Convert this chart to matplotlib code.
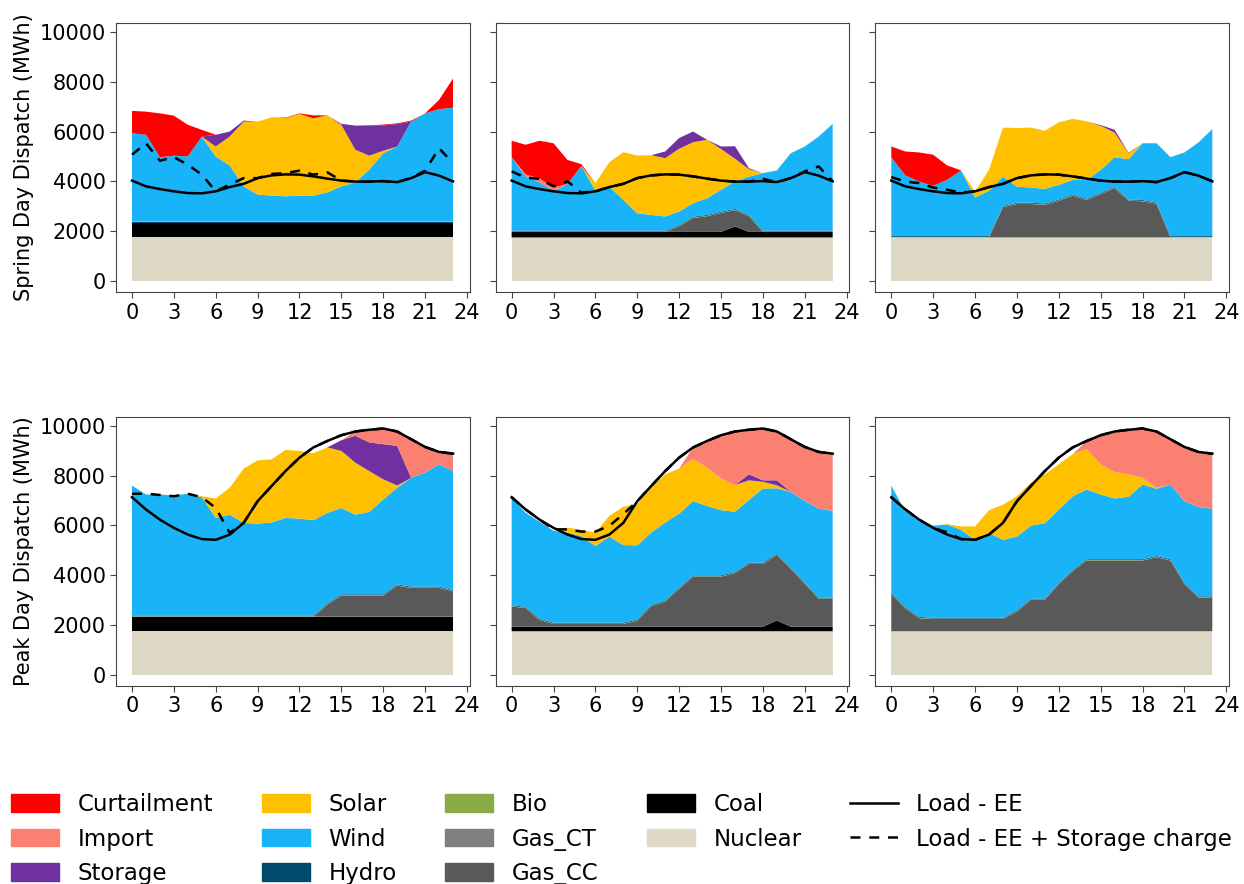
### Dispatch stack for spring day and peak day, three scenarios ###

import numpy as np
import matplotlib.pyplot as plt
from matplotlib.patches import Patch
from matplotlib.lines import Line2D

# Data (MWh), hours 0..23

hours = np.arange(24)

tech_names = ["Nuclear", "Coal", "Gas_CC", "Gas_CT", "Bio", "Hydro",
              "Wind", "Solar", "Storage", "Import", "Curtailment"]
tech_colors = ["#DDD9C4", "#000000", "#595959", "#7F7F7F", "#8AAC46", "#004B6B",
               "#19B4F8", "#FFC000", "#7030A0", "#FA8072", "#FF0000"]

load_spring = [4030, 3800, 3690, 3600, 3530, 3520, 3600, 3770, 3900, 4130, 4240, 4280,
               4270, 4200, 4110, 4030, 3990, 3990, 4010, 3970, 4130, 4370, 4230, 4000]
load_peak = [7130, 6640, 6230, 5900, 5630, 5450, 5420, 5630, 6100, 6970, 7580, 8180,
             8720, 9130, 9390, 9620, 9770, 9840, 9890, 9770, 9460, 9150, 8950, 8880]

bio = [15] * 24
hydro = [35] * 24
nuclear = [1750] * 24
no_gen = [0] * 24

# Spring day, scenario 1
sp1_coal = [580] * 24
sp1_gas_cc = no_gen
sp1_wind = [3550, 3490, 2590, 2650, 2620, 3420, 2620, 2260, 1420, 1090, 1050, 1020,
            1050, 1050, 1180, 1420, 1580, 2090, 2750, 3020, 4020, 4350, 4520, 4580]
sp1_solar = [0, 0, 0, 0, 0, 0, 400, 1160, 2600, 2930, 3140, 3140,
             3280, 3100, 3090, 2470, 1310, 560, 100, 0, 0, 0, 0, 0]
sp1_storage = [0, 0, 0, 0, 0, 0, 470, 200, 40, 0, 0, 0,
               0, 0, 0, 40, 970, 1220, 1020, 900, 0, 0, 0, 0]
sp1_import = no_gen
sp1_curtail = [900, 930, 1760, 1610, 1270, 270, 0, 0, 0, 0, 0, 20,
               20, 120, 0, 0, 0, 0, 30, 30, 40, 0, 370, 1170]
sp1_charge = [5070, 5530, 4830, 4970, 4670, 4270, 3600, 3870, 4130, 4130, 4300, 4330,
              4430, 4270, 4360, 4030, 3990, 3990, 4010, 3970, 4130, 4430, 5330, 4730]

# Spring day, scenario 2
sp2_coal = [220, 220, 220, 220, 220, 220, 220, 220, 220, 220, 220, 220,
            220, 220, 220, 220, 440, 220, 220, 220, 220, 220, 220, 220]
sp2_gas_cc = [0, 0, 0, 0, 0, 0, 0, 0, 0, 0, 0, 0,
              220, 560, 630, 760, 650, 630, 0, 0, 0, 0, 0, 0]
sp2_wind = [2950, 2180, 1940, 1580, 1880, 2600, 1610, 1770, 1240, 700, 630, 570,
            550, 540, 670, 880, 1110, 1540, 2310, 2420, 3110, 3380, 3780, 4290]
sp2_solar = [0, 0, 0, 0, 0, 0, 300, 980, 1910, 2320, 2400, 2340,
             2520, 2450, 2350, 1640, 910, 300, 0, 0, 0, 0, 0, 0]
sp2_storage = [0, 0, 0, 0, 0, 0, 0, 0, 0, 0, 0, 270,
               430, 430, 0, 100, 500, 40, 0, 0, 0, 0, 0, 0]
sp2_import = [0, 80, 150, 150, 0, 0, 0, 0, 0, 0, 0, 0,
              0, 0, 0, 0, 0, 0, 0, 0, 0, 0, 0, 0]
sp2_curtail = [660, 1190, 1520, 1780, 960, 70, 0, 0, 0, 0, 0, 0,
               0, 0, 0, 0, 0, 0, 0, 0, 0, 0, 0, 0]
sp2_charge = [4400, 4150, 4100, 3800, 4000, 3550, 3600, 3770, 3900, 4130, 4240, 4280,
              4270, 4200, 4110, 4030, 3990, 3990, 4100, 3970, 4130, 4400, 4600, 4000]

# Spring day, scenario 3
sp3_coal = no_gen
sp3_gas_cc = [0, 0, 0, 0, 0, 0, 0, 0, 1210, 1340, 1340, 1310,
              1470, 1670, 1500, 1740, 1980, 1470, 1450, 1350, 0, 0, 0, 0]
sp3_wind = [3170, 2440, 2190, 2020, 2260, 2640, 1560, 1820, 1180, 650, 610, 590,
            590, 590, 760, 920, 1190, 1620, 2280, 2380, 3170, 3360, 3760, 4300]
sp3_solar = [0, 0, 0, 0, 0, 0, 230, 840, 1970, 2350, 2410, 2330,
             2510, 2450, 2350, 1770, 990, 240, 0, 0, 0, 0, 0, 0]
sp3_storage = [0, 0, 0, 0, 0, 0, 0, 0, 0, 0, 0, 0,
               0, 0, 0, 30, 110, 20, 0, 0, 0, 0, 0, 0]
sp3_import = no_gen
sp3_curtail = [430, 960, 1170, 1250, 580, 0, 0, 0, 0, 0, 0, 0,
               0, 0, 0, 0, 0, 0, 0, 0, 0, 0, 0, 0]
sp3_charge = [4170, 3990, 3930, 3750, 3660, 3550, 3600, 3770, 3900, 4130, 4240, 4280,
              4270, 4200, 4110, 4030, 3990, 3990, 4010, 3970, 4130, 4370, 4230, 4000]

# Peak day, scenario 1
pk1_coal = [580] * 24
pk1_gas_cc = [0, 0, 0, 0, 0, 0, 0, 0, 0, 0, 0, 0,
              0, 0, 490, 850, 850, 850, 850, 1250, 1160, 1160, 1160, 1020]
pk1_wind = [5220, 4860, 4860, 4820, 4890, 4750, 3920, 4050, 3720, 3690, 3740, 3920,
            3890, 3830, 3630, 3470, 3200, 3310, 3810, 3880, 4370, 4580, 4910, 4780]
pk1_solar = [0, 0, 0, 0, 0, 40, 780, 1080, 2180, 2540, 2530, 2730,
             2720, 2690, 2630, 2290, 2090, 1640, 810, 90, 0, 0, 0, 0]
pk1_storage = [0, 0, 0, 0, 0, 0, 0, 0, 0, 0, 0, 0,
               0, 0, 0, 430, 1080, 1150, 1410, 1590, 0, 0, 0, 0]
pk1_import = [0, 0, 0, 0, 0, 0, 0, 0, 0, 0, 0, 0,
              0, 0, 0, 0, 170, 510, 630, 580, 1550, 1030, 500, 700]
pk1_curtail = no_gen
pk1_charge = [7270, 7270, 7220, 7170, 7270, 7130, 6700, 5700, 6100, 6970, 7580, 8180,
              8720, 9130, 9390, 9620, 9770, 9840, 9890, 9770, 9460, 9150, 8950, 8880]

# Peak day, scenario 2
pk2_coal = [180, 180, 180, 180, 180, 180, 180, 180, 180, 180, 180, 180,
            180, 180, 180, 180, 180, 180, 180, 430, 180, 180, 180, 180]
pk2_gas_cc = [810, 750, 270, 110, 110, 110, 110, 110, 110, 240, 820, 1010,
              1520, 2010, 2010, 2010, 2150, 2520, 2520, 2630, 2320, 1720, 1120, 1120]
pk2_wind = [4330, 3780, 3890, 3690, 3620, 3480, 3080, 3460, 3120, 2980, 2910, 3120,
            2970, 2990, 2790, 2620, 2420, 2520, 2980, 2630, 3040, 3280, 3570, 3480]
pk2_solar = [0, 0, 0, 0, 200, 250, 540, 830, 1540, 1650, 1810, 1940,
             1810, 1680, 1540, 1270, 1070, 790, 270, 120, 0, 0, 0, 0]
pk2_storage = [0, 0, 0, 0, 0, 0, 0, 0, 0, 0, 0, 0,
               0, 0, 0, 0, 0, 240, 60, 200, 0, 0, 0, 0]
pk2_import = [0, 0, 0, 0, 0, 0, 0, 0, 0, 0, 0, 0,
              0, 470, 1070, 1740, 2150, 1790, 2080, 1960, 2120, 2170, 2280, 2300]
pk2_curtail = no_gen
pk2_charge = [7130, 6640, 6230, 5840, 5840, 5750, 5750, 5980, 6450, 6970, 7580, 8180,
              8720, 9130, 9390, 9620, 9770, 9840, 9890, 9770, 9460, 9150, 8950, 8880]

# Peak day, scenario 3
pk3_coal = no_gen
pk3_gas_cc = [1500, 920, 520, 490, 490, 490, 490, 490, 490, 790, 1260, 1260,
              1890, 2410, 2840, 2840, 2840, 2840, 2840, 2970, 2840, 1890, 1350, 1350]
pk3_wind = [4300, 3840, 3880, 3700, 3740, 3530, 3130, 3400, 3130, 2960, 2930, 3030,
            2940, 2960, 2800, 2600, 2440, 2510, 3000, 2700, 3000, 3280, 3590, 3510]
pk3_solar = [0, 0, 0, 0, 20, 140, 540, 920, 1410, 1620, 1720, 1960,
             1820, 1690, 1620, 1210, 1060, 900, 270, 40, 0, 0, 0, 0]
pk3_storage = no_gen
pk3_import = [0, 0, 0, 0, 0, 0, 0, 0, 0, 0, 0, 0,
              0, 0, 330, 1170, 1630, 1790, 1980, 2260, 1820, 2180, 2210, 2220]
pk3_curtail = no_gen
pk3_charge = [7130, 6640, 6230, 5900, 5720, 5450, 5420, 5630, 6100, 6970, 7580, 8180,
              8720, 9130, 9390, 9620, 9770, 9840, 9890, 9770, 9460, 9150, 8950, 8880]

# Build the panels (row, col) from the arrays above

panels = [
    (0, 0, [sp1_coal, sp1_gas_cc, sp1_wind, sp1_solar, sp1_storage, sp1_import, sp1_curtail], load_spring, sp1_charge),
    (0, 1, [sp2_coal, sp2_gas_cc, sp2_wind, sp2_solar, sp2_storage, sp2_import, sp2_curtail], load_spring, sp2_charge),
    (0, 2, [sp3_coal, sp3_gas_cc, sp3_wind, sp3_solar, sp3_storage, sp3_import, sp3_curtail], load_spring, sp3_charge),
    (1, 0, [pk1_coal, pk1_gas_cc, pk1_wind, pk1_solar, pk1_storage, pk1_import, pk1_curtail], load_peak, pk1_charge),
    (1, 1, [pk2_coal, pk2_gas_cc, pk2_wind, pk2_solar, pk2_storage, pk2_import, pk2_curtail], load_peak, pk2_charge),
    (1, 2, [pk3_coal, pk3_gas_cc, pk3_wind, pk3_solar, pk3_storage, pk3_import, pk3_curtail], load_peak, pk3_charge),
]

fig, axes = plt.subplots(2, 3, figsize=(12.44, 8.84), dpi=100, sharey=True)
fig.subplots_adjust(left=0.0932, right=0.988, top=0.974, bottom=0.224,
                    wspace=0.073, hspace=0.463)

for row, col, series, load, charge in panels:
    ax = axes[row, col]
    coal, gas_cc, wind, solar, storage, imp, curtail = series
    stack = [nuclear, coal, gas_cc, no_gen, bio, hydro, wind, solar, storage, imp, curtail]
    ax.stackplot(hours, *stack, colors=tech_colors, linewidth=0.8)
    ax.plot(hours, charge, color="black", lw=1.8, dashes=(4, 3.5))
    ax.plot(hours, load, color="black", lw=1.8)

    ax.set_xlim(-1.15, 24.2)
    ax.set_ylim(-450, 10360)
    ax.set_xticks(range(0, 25, 3))
    ax.set_yticks(range(0, 10001, 2000))
    ax.tick_params(labelsize=15, color="#444444", length=4)
    for sp in ax.spines.values():
        sp.set_color("#444444")

axes[0, 0].set_ylabel("Spring Day Dispatch (MWh)", fontsize=15)
axes[1, 0].set_ylabel("Peak Day Dispatch (MWh)", fontsize=15)

# Legend (same order as the original, top of stack first)
legend_order = ["Curtailment", "Import", "Storage", "Solar", "Wind", "Hydro",
                "Bio", "Gas_CT", "Gas_CC", "Coal", "Nuclear"]
handles = [Patch(color=tech_colors[tech_names.index(n)], label=n) for n in legend_order]
handles.append(Line2D([], [], color="black", lw=1.8, label="Load - EE"))
handles.append(Line2D([], [], color="black", lw=1.8, dashes=(4, 3.5),
                      label="Load - EE + Storage charge"))

fig.legend(handles=handles, ncol=5, loc="lower left", bbox_to_anchor=(-0.0075, -0.0245),
           frameon=False, fontsize=16.5, handlelength=2.1, handleheight=0.8,
           handletextpad=0.8, columnspacing=2.12, labelspacing=0.5)

plt.savefig("out.png")
